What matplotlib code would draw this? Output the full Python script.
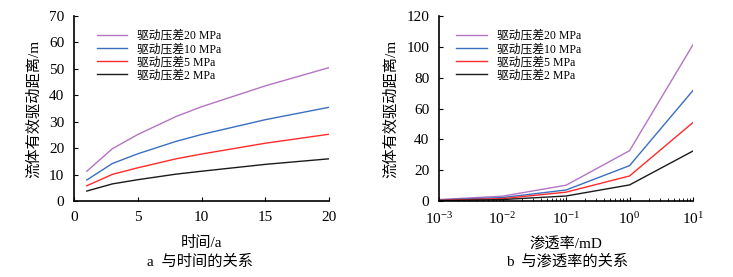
import matplotlib
matplotlib.use('Agg')
from matplotlib import pyplot as plt
import numpy as np

plt.rcParams['font.family'] = ['Liberation Serif', 'Noto Sans CJK SC']
plt.rcParams['axes.unicode_minus'] = False
plt.rcParams['mathtext.fontset'] = 'stix'

# panel a: distance vs time
t = [1, 3, 5, 8, 10, 15, 20]
a_20 = [11.3, 19.8, 25.2, 32.0, 35.7, 43.6, 50.5]
a_10 = [8.0, 14.2, 17.9, 22.6, 25.2, 30.8, 35.5]
a_5 = [5.8, 10.1, 12.6, 16.0, 17.8, 21.9, 25.3]
a_2 = [3.8, 6.5, 8.1, 10.2, 11.3, 13.9, 16.0]

# panel b: distance vs permeability
k = [0.001, 0.01, 0.1, 1, 10]
b_20 = [1.0, 3.2, 10.3, 32.7, 101.5]
b_10 = [0.7, 2.3, 7.2, 23.0, 71.8]
b_5 = [0.5, 1.6, 5.8, 16.3, 51.0]
b_2 = [0.3, 1.0, 3.3, 10.5, 32.5]

labels = ['驱动压差20 MPa', '驱动压差10 MPa', '驱动压差5 MPa', '驱动压差2 MPa']
colors = ['#b574c4', '#3a6fc0', '#ff2a2a', '#1a1a1a']
ylabel = '流体有效驱动距离/m'
k_ticks = ['10$^{\\mathregular{-3}}$', '10$^{\\mathregular{-2}}$', '10$^{\\mathregular{-1}}$',
           '10$^{\\mathregular{0}}$', '10$^{\\mathregular{1}}$']

fig = plt.figure(figsize=(7.33, 2.77), dpi=100)
ax1 = fig.add_axes([0.101, 0.274, 0.348, 0.668])
ax2 = fig.add_axes([0.599, 0.274, 0.3465, 0.668])

for ys, c, lab in zip([a_20, a_10, a_5, a_2], colors, labels):
    ax1.plot(t, ys, color=c, lw=1.0, label=lab)
for ys, c, lab in zip([b_20, b_10, b_5, b_2], colors, labels):
    ax2.plot(k, ys, color=c, lw=1.0, label=lab)

ax1.set_xlim(0, 20)
ax1.set_ylim(0, 70)
ax1.set_xticks([0, 5, 10, 15, 20])
ax1.set_yticks(range(0, 71, 10))
ax1.set_xlabel('时间/a', fontsize=11, labelpad=9)

ax2.set_xscale('log')
ax2.set_xlim(0.001, 10)
ax2.set_ylim(0, 120)
ax2.set_yticks(range(0, 121, 20))
ax2.set_xticks([0.001, 0.01, 0.1, 1, 10])
ax2.set_xticklabels(k_ticks)
ax2.set_xlabel('渗透率/mD', fontsize=11, labelpad=7)

for ax, lx in ((ax1, 0.07), (ax2, 0.05)):
    ax.spines['top'].set_visible(False)
    ax.spines['right'].set_visible(False)
    ax.spines['left'].set_linewidth(1.2)
    ax.spines['bottom'].set_linewidth(1.2)
    ax.tick_params(direction='in', length=3, labelsize=11, pad=7)
    ax.tick_params(which='minor', direction='in', length=2)
    ax.set_ylabel(ylabel, fontsize=11, labelpad=6)
    ax.legend(loc='upper left', bbox_to_anchor=(lx, 0.95), frameon=False,
              fontsize=8.5, handlelength=2.6, labelspacing=0.1, borderaxespad=0)

fig.text(0.273, 0.04, 'a  与时间的关系', ha='center', fontsize=11)
fig.text(0.773, 0.04, 'b  与渗透率的关系', ha='center', fontsize=11)

plt.savefig('out.png', dpi=100)
